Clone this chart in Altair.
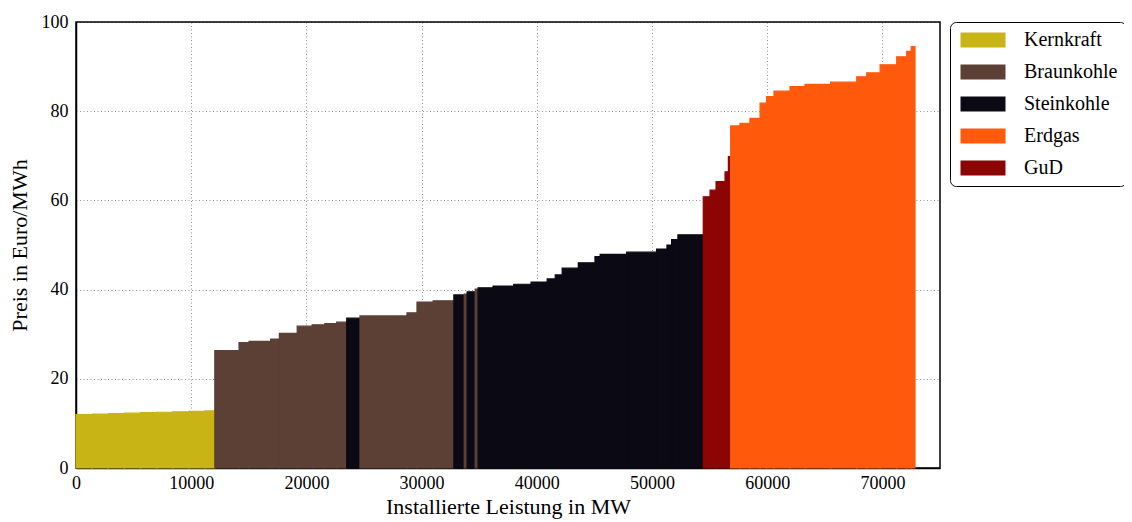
import altair as alt
import pandas as pd

# Merit-order blocks (left to right): fuel type, block capacity (MW), price (Euro/MWh)
fuel = (
    ["Kernkraft"] * 9
    + ["Braunkohle"] * 9
    + ["Steinkohle"]
    + ["Braunkohle"] * 4
    + ["Steinkohle", "Braunkohle", "Steinkohle", "Braunkohle"]
    + ["Steinkohle"] * 15
    + ["GuD"] * 5
    + ["Erdgas"] * 15
)
capacity_mw = (
    [1400, 1400, 1400, 1400, 1400, 1400, 1400, 1400, 850]
    + [2100, 870, 1880, 750, 1550, 1300, 1100, 1030, 870]
    + [1150]
    + [4080, 870, 1400, 1800]
    + [900, 250, 700, 250]
    + [1300, 1800, 1500, 1400, 700, 600, 1400, 1450, 450, 2300, 2600, 900, 400, 550, 2200]
    + [590, 520, 780, 290, 200]
    + [810, 860, 880, 570, 640, 1390, 1300, 2220, 2270, 870, 1160, 1440, 870, 390, 330]
)
price = (
    [12.0, 12.1, 12.2, 12.3, 12.4, 12.5, 12.6, 12.7, 12.8]
    + [26.3, 28.1, 28.4, 28.9, 30.2, 31.8, 32.1, 32.4, 32.7]
    + [33.6]
    + [34.1, 34.8, 37.2, 37.5]
    + [38.8, 39.0, 39.5, 40.1]
    + [40.4, 40.8, 41.2, 41.7, 42.4, 43.3, 44.8, 46.0, 47.4, 47.9, 48.4, 49.1, 50.0, 51.2, 52.3]
    + [60.8, 62.3, 64.2, 66.4, 69.8]
    + [76.7, 77.3, 78.4, 81.8, 83.3, 84.5, 85.5, 86.0, 86.5, 87.7, 88.6, 90.4, 92.2, 93.4, 94.5]
)

legend_order = ["Kernkraft", "Braunkohle", "Steinkohle", "Erdgas", "GuD"]
legend_colors = ["#c9b416", "#5c4036", "#0b0a14", "#ff5a0c", "#8b0505"]
x_ticks = [0, 10000, 20000, 30000, 40000, 50000, 60000, 70000]
y_ticks = [0, 20, 40, 60, 80, 100]

df = pd.DataFrame({"Fuel": fuel, "Capacity": capacity_mw, "Price": price})
df["End"] = df["Capacity"].cumsum()
df["Start"] = df["End"] - df["Capacity"]
df["Base"] = 0.0

FONT = "Liberation Serif"
color_scale = alt.Scale(domain=legend_order, range=legend_colors)

chart = (
    alt.Chart(df)
    .mark_rect(strokeWidth=1.2)
    .encode(
        x=alt.X(
            "Start:Q",
            scale=alt.Scale(domain=[0, 75000], nice=False, zero=True),
            axis=alt.Axis(
                values=x_ticks, format="d", title="Installierte Leistung in MW",
                labelPadding=6, titlePadding=4, labelFlush=False,
            ),
        ),
        x2="End:Q",
        y=alt.Y(
            "Price:Q",
            scale=alt.Scale(domain=[0, 100], nice=False),
            axis=alt.Axis(
                values=y_ticks, title="Preis in Euro/MWh",
                labelPadding=8, titlePadding=10, labelFlush=False,
            ),
        ),
        y2="Base:Q",
        color=alt.Color(
            "Fuel:N",
            scale=color_scale,
            sort=legend_order,
            legend=alt.Legend(
                title=None,
                orient="none",
                legendX=874,
                legendY=0,
                symbolType="M-1,-1L5,-1L5,1L-1,1Z",
                symbolSize=225,
                symbolStrokeWidth=0,
                symbolOpacity=1,
                labelFont=FONT,
                labelFontSize=20,
                labelColor="black",
                labelOffset=46,
                rowPadding=12,
                padding=8,
                strokeColor="black",
                cornerRadius=6,
                fillColor="white",
            ),
        ),
        stroke=alt.Stroke("Fuel:N", scale=color_scale, legend=None),
    )
    .properties(
        width=864,
        height=446,
        autosize=alt.AutoSizeParams(type="none"),
        padding={"left": 68, "top": 14, "right": 184, "bottom": 54},
    )
    .configure_view(stroke="black", strokeWidth=1.5)
    .configure_axis(
        labelFont=FONT,
        titleFont=FONT,
        labelFontSize=18,
        titleFontSize=22,
        titleFontWeight="normal",
        labelColor="black",
        titleColor="black",
        ticks=False,
        tickSize=0,
        domain=True,
        domainColor="black",
        domainWidth=1.5,
        grid=True,
        gridColor="black",
        gridDash=[1, 2.5],
        gridWidth=0.8,
        gridOpacity=0.55,
        zindex=1,
    )
)

chart.save("out.html", embed_options={"renderer": "svg", "actions": False})
